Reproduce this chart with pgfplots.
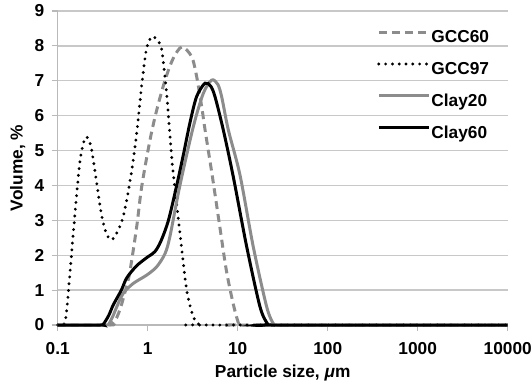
\documentclass[border=0pt]{standalone}
\usepackage{pgfplots}
\pgfplotsset{compat=1.18}
\usepackage{fontspec}
\setmainfont{Liberation Sans}
\newcommand\myfont{\fontsize{17.3bp}{20bp}\selectfont\bfseries}
\definecolor{lgray}{RGB}{140,140,140}
\definecolor{gridc}{RGB}{200,200,200}
\definecolor{axl}{RGB}{185,185,185}
\begin{document}
\begin{tikzpicture}
\begin{axis}[
  at={(0,0)}, anchor=south west,
  width=450bp, height=314bp, scale only axis,
  xmode=log, xmin=0.1, xmax=10000, ymin=0, ymax=9,
  clip=false,
  axis x line*=bottom,
  axis y line*=left,
  axis line style={axl, line width=1.2bp},
  xtick={0.1,1,10,100,1000,10000},
  xticklabels={0.1,1,10,100,1000,10000},
  ytick={0,1,...,9},
  yticklabels={0,1,2,3,4,5,6,7,8,9},
  xminorticks=false,
  tick align=outside,
  major tick length=6bp,
  tick style={axl, line width=1.2bp},
  grid=major,
  xmajorgrids=false,
  ymajorgrids=true,
  major grid style={gridc, line width=1.3bp},
  tick label style={font=\myfont},
  xticklabel style={yshift=-8bp},
  yticklabel style={xshift=-4bp},
  xlabel={Particle size, \textit{μ}m},
  ylabel={Volume, \%},
  every axis x label/.style={at={(axis description cs:0.5,-0.168)}, anchor=base, font=\myfont},
  every axis y label/.style={at={(axis description cs:-0.0889,0.5)}, rotate=90, anchor=center, font=\myfont},
  legend style={at={(axis description cs:0.7096,0.943)}, anchor=north west,
    draw=none, fill=none, font=\myfont, row sep=13.6bp, inner sep=0bp,
    nodes={inner sep=1bp, text height=12.5bp, text depth=3.7bp}},
  legend cell align=left,
  legend image code/.code={\draw[#1] (0bp,6bp) -- (50bp,6bp);},
]
\addplot[lgray, line width=3bp, dash pattern=on 8bp off 5bp, smooth] coordinates {
(0.1,0) (0.38,0) (0.4,0.03) (0.45,0.2) (0.5,0.5) (0.56,0.95) (0.63,1.49) (0.755,2.82) (0.857,3.96)
(1.06,5.3) (1.26,6.16) (1.56,7.02) (1.92,7.64) (2.4,7.97) (3.08,7.69) (3.5,7.12)
(3.98,6.26) (4.34,5.59) (5.2,4.3) (6.3,2.85) (7.5,1.55) (8.93,0.6) (10.2,0.05) (10.8,0) (10000,0)
};
\addlegendentry{GCC60}
\addplot[black, line width=3.2bp, dash pattern=on 0bp off 6.8bp, line cap=round, smooth] coordinates {
(0.1,0) (0.115,0) (0.122,0.15) (0.13,0.8) (0.149,2.64) (0.175,4.6) (0.195,5.25) (0.21,5.39)
(0.235,5.1) (0.271,4.07) (0.31,3.1) (0.35,2.6) (0.398,2.44) (0.453,2.64) (0.52,3.0)
(0.585,3.58) (0.67,4.5) (0.755,5.5) (0.86,6.9) (0.975,7.95) (1.12,8.27) (1.25,8.18)
(1.43,7.9) (1.62,6.65) (1.77,5.4) (1.92,4.35) (2.28,2.64) (2.71,1.0) (3.21,0.24) (3.7,0.02) (4.0,0) (10000,0)
};
\addlegendentry{GCC97}
\addplot[lgray, line width=3bp, smooth] coordinates {
(0.1,0) (0.35,0) (0.37,0.03) (0.41,0.25) (0.453,0.52) (0.536,0.91) (0.69,1.19) (0.975,1.43)
(1.26,1.67) (1.56,2.05) (1.77,2.55) (2.28,4.0) (3.21,5.68) (4.15,6.64) (5.14,7.02)
(6.0,6.9) (6.64,6.54) (7.87,5.59) (10.6,4.3) (14.9,2.24) (21,0.52) (25,0.03) (27,0) (10000,0)
};
\addlegendentry{Clay20}
\addplot[black, line width=3bp, smooth] coordinates {
(0.1,0) (0.3,0) (0.321,0.02) (0.37,0.28) (0.415,0.58) (0.51,1.0) (0.585,1.35) (0.755,1.7)
(1.0,1.95) (1.2,2.1) (1.4,2.4) (1.7,3.0) (2.1,4.0) (2.5,4.9) (2.95,5.8) (3.5,6.55) (4.33,6.93)
(5.0,6.85) (5.6,6.54) (6.92,5.59) (8.93,4.25) (12.6,2.24) (17.7,0.52) (21.5,0.03) (23.5,0) (10000,0)
};
\addlegendentry{Clay60}
\end{axis}
\pgfresetboundingbox
\path[use as bounding box] (-57.7bp,-59bp) rectangle (474.3bp,325bp);
\end{tikzpicture}
\end{document}
